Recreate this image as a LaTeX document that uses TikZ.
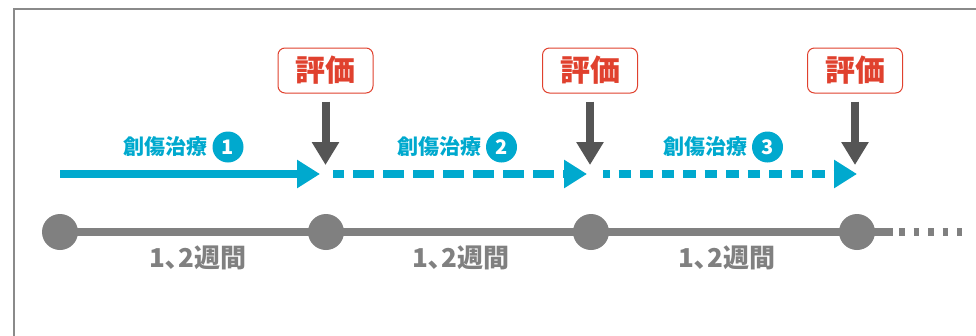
\documentclass[tikz,border=0pt]{standalone}
\usepackage{fontspec}
\newfontfamily\jp{Noto Sans CJK JP}
\usetikzlibrary{arrows.meta,backgrounds}
\definecolor{tblue}{HTML}{00A9CE}
\definecolor{tgray}{HTML}{808080}
\definecolor{tdark}{HTML}{555555}
\definecolor{tred}{HTML}{E0412E}
\definecolor{tframe}{HTML}{8A8A8A}
\tikzset{
  evalbox/.style={draw=tred, line width=1pt, rounded corners=7pt, fill=white,
    minimum width=95pt, minimum height=45pt, inner sep=0pt,
    text=tred, font=\jp\bfseries\fontsize{30}{30}\selectfont},
  darrow/.style={draw=tdark, line width=8pt, -{Triangle[width=26pt,length=23pt]}},
  barrow/.style={draw=tblue, line width=7.5pt, -{Triangle[width=27pt,length=23pt]}},
  tlabel/.style={text=tblue, inner sep=0pt, font=\jp\bfseries\fontsize{21}{21}\selectfont},
  numdisk/.style={circle, fill=tblue, minimum size=31pt, inner sep=0pt,
    text=white, font=\jp\bfseries\fontsize{20}{20}\selectfont},
  tdot/.style={circle, fill=tgray, minimum size=36pt, inner sep=0pt},
  tline/.style={draw=tgray, line width=8pt},
  wlabel/.style={text=tgray, inner sep=0pt, font=\jp\bfseries\fontsize{26}{26}\selectfont}
}
\begin{document}
\begin{tikzpicture}[x=1pt,y=-1pt]
\useasboundingbox (0,0) rectangle (976,335);
% frame
\draw[tframe, line width=2pt] (14,336) -- (14,9) -- (977,9);

% evaluation boxes
\node[evalbox] (e1) at (325.5,70.5) {評価};
\node[evalbox] (e2) at (590,70.5) {評価};
\node[evalbox] (e3) at (855,70.5) {評価};
\coordinate (d1) at (325.5,165);
\coordinate (d2) at (590,165);
\coordinate (d3) at (855,165);
\draw[darrow, shorten <=8pt] (e1.south) -- (d1);
\draw[darrow, shorten <=8pt] (e2.south) -- (d2);
\draw[darrow, shorten <=8pt] (e3.south) -- (d3);

% treatment arrows
\coordinate (a0) at (60,174);
\coordinate (a1) at (320,174);
\coordinate (b0) at (333,174);
\coordinate (b1) at (587,174);
\coordinate (c0) at (603,174);
\coordinate (c1) at (857,174);
\draw[barrow] (a0) -- (a1);
\draw[barrow, dash pattern=on 21pt off 9pt, dash phase=10pt] (b0) -- (b1);
\draw[barrow, dash pattern=on 12.5pt off 9pt, dash phase=6pt] (c0) -- (c1);

% treatment labels
\node[tlabel] (t1) at (165,147) {創傷治療};
\node[numdisk] (n1) at (228,147) {1};
\node[tlabel] (t2) at (439.5,147) {創傷治療};
\node[numdisk] (n2) at (501.5,147) {2};
\node[tlabel] (t3) at (705,147) {創傷治療};
\node[numdisk] (n3) at (767.5,147) {3};

% timeline
\node[tdot] (p0) at (60,232) {};
\node[tdot] (p1) at (326,232) {};
\node[tdot] (p2) at (591,232) {};
\node[tdot] (p3) at (857,232) {};
\coordinate (q0) at (893,232);
\coordinate (q1) at (899,232);
\coordinate (q2) at (962,232);
\begin{scope}[on background layer]
\draw[tline] (p0.center) -- (p1.center);
\draw[tline] (p1.center) -- (p2.center);
\draw[tline] (p2.center) -- (p3.center);
\draw[tline] (p3.center) -- (q0);
\draw[tline, dash pattern=on 5.5pt off 9pt] (q1) -- (q2);
\end{scope}

% week labels
\node[wlabel] (w1) at (198,258) {1､2週間};
\node[wlabel] (w2) at (461,258) {1､2週間};
\node[wlabel] (w3) at (727,258) {1､2週間};
\end{tikzpicture}
\end{document}
